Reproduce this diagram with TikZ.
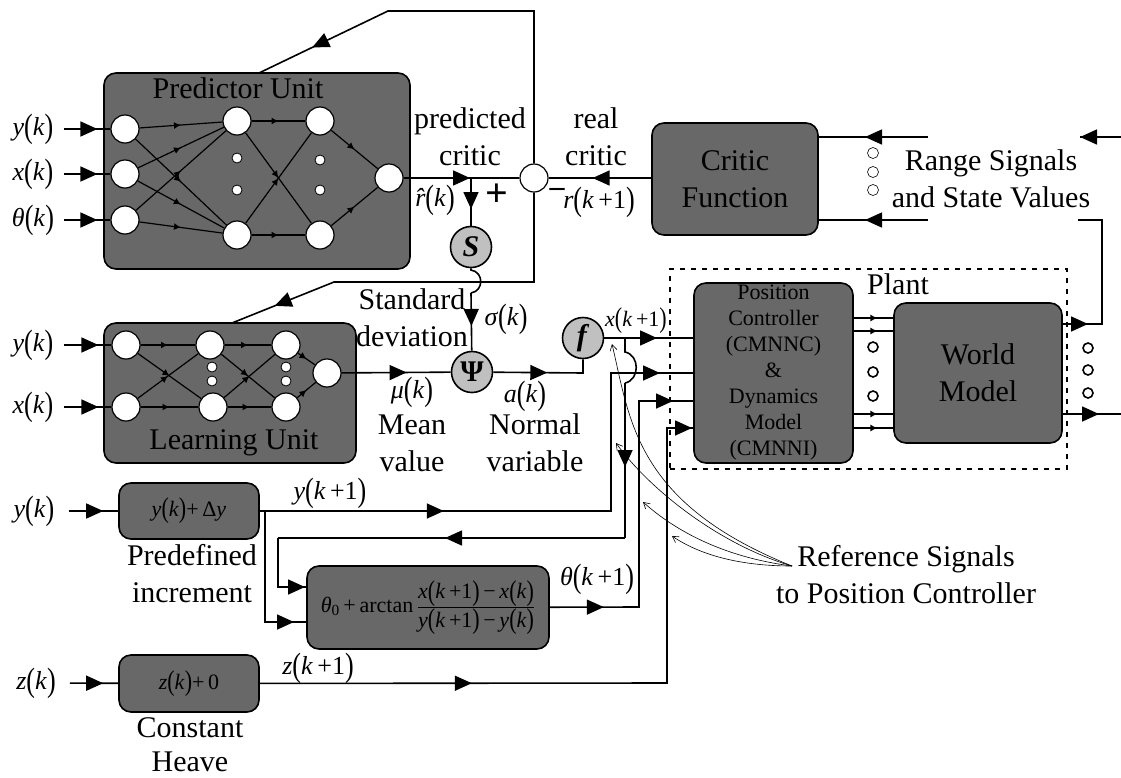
\documentclass[tikz,border=0pt]{standalone}
\usepackage{fontspec}
\setmainfont{Liberation Serif}
\usepackage{xcolor}
\definecolor{boxgray}{RGB}{104, 104, 104}
\definecolor{opgray}{RGB}{192, 192, 192}
\usepackage{tikz}
\usetikzlibrary{arrows.meta, decorations.markings}

\newcommand{\tallp}[1]{\raisebox{-0.06em}{\scalebox{1}[1.3]{#1}}}
\newcommand{\sigof}[2]{\textit{#1}\tallp{(}\textit{#2}\tallp{)}}
\newcommand{\signext}[1]{\textit{#1}\tallp{(}\textit{k}\,+1\tallp{)}}

\begin{document}
\begin{tikzpicture}[
    x=1pt, y=-1pt,
    every node/.style={align=center, inner sep=0pt, font=\fontsize{30}{37}\selectfont},
    mathlabel/.style={font=\fontsize{26}{30}\selectfont},
    inlabel/.style={mathlabel, inner xsep=10pt},
    smalllabel/.style={font=\fontsize{22}{26}\selectfont},
    unitbox/.style={rectangle, rounded corners=12pt, draw, line width=1.6pt, fill=boxgray},
    plantbox/.style={rectangle, draw, line width=2pt, dash pattern=on 5pt off 6pt},
    neuron/.style={circle, draw, fill=white, line width=1.2pt, minimum size=28pt},
    gapdot/.style={circle, draw, fill=white, line width=0.8pt, minimum size=10pt},
    ringdot/.style={circle, draw, fill=white, line width=1.6pt, minimum size=10pt},
    thindot/.style={circle, draw, fill=white, line width=0.6pt, minimum size=11pt},
    opnode/.style={circle, draw, fill=opgray, line width=1.6pt, minimum size=41pt, font=\fontsize{30}{30}\selectfont\bfseries},
    flow/.style={line width=1.6pt, decoration={markings, mark=at position #1 with {\arrow{Triangle[length=17pt,width=15pt]}}}, postaction={decorate}},
    flowtwo/.style 2 args={line width=1.6pt, decoration={markings, mark=at position #1 with {\arrow{Triangle[length=17pt,width=15pt]}}, mark=at position #2 with {\arrow{Triangle[length=17pt,width=15pt]}}}, postaction={decorate}},
    wire/.style={line width=1.6pt},
    edge/.style={line width=1.2pt, decoration={markings, mark=at position #1 with {\arrow{Latex[length=7pt,width=7pt]}}}, postaction={decorate}},
    edge/.default=0.5,
    callout/.style={line width=0.6pt, -{Straight Barb[length=6pt,width=7pt]}}
]
\useasboundingbox (0,0) rectangle (1121,777);

% Boxes
\node[plantbox, minimum width=397pt, minimum height=200pt] (plant) at (868,369) {};
\node[unitbox, minimum width=306pt, minimum height=196pt] (predictor) at (257,171) {};
\node[unitbox, minimum width=252pt, minimum height=140pt] (learning) at (230,393) {};
\node[unitbox, minimum width=166pt, minimum height=112pt] (criticfn) at (735,179) {Critic\\Function};
\node[unitbox, minimum width=159pt, minimum height=180pt, font=\fontsize{22}{26}\selectfont] (controller) at (773.5,373) {Position\\Controller\\(CMNNC)\\\&\\Dynamics\\Model\\(CMNNI)};
\node[unitbox, minimum width=168pt, minimum height=140pt] (world) at (978,373) {World\\Model};
\node[unitbox, minimum width=140pt, minimum height=56pt, smalllabel] (incr) at (189,511) {\sigof{y}{k}+\,Δ\textit{y}};
\node[unitbox, minimum width=242pt, minimum height=83pt, smalllabel] (formula) at (428,607.5) {\textit{θ}\textsubscript{0}\,+\,arctan\,$\displaystyle\frac{\mbox{\signext{x}\,−\,\sigof{x}{k}}}{\mbox{\signext{y}\,−\,\sigof{y}{k}}}$};
\node[unitbox, minimum width=140pt, minimum height=57pt, smalllabel] (heave) at (189,683.5) {\sigof{z}{k}+\,0};

% Predictor network
\node (predname) at (238,88) {Predictor Unit};
\node[neuron] (pa) at (125,129) {};
\node[neuron] (pb) at (125,174) {};
\node[neuron] (pc) at (125,220) {};
\node[neuron] (pd) at (237,121) {};
\node[neuron] (pe) at (237,235) {};
\node[neuron] (pf) at (320,121) {};
\node[neuron] (pg) at (320,235) {};
\node[neuron] (ph) at (389,178) {};
\node[gapdot] (pdota) at (237,158) {};
\node[gapdot] (pdotb) at (237,190) {};
\node[gapdot] (pdotc) at (320,160) {};
\node[gapdot] (pdotd) at (320,190) {};
\draw[edge] (pa) -- (pd);
\draw[edge] (pa) -- (pe);
\draw[edge] (pb) -- (pd);
\draw[edge] (pb) -- (pe);
\draw[edge] (pc) -- (pd);
\draw[edge] (pc) -- (pe);
\draw[edge] (pd) -- (pf);
\draw[edge] (pd) -- (pg);
\draw[edge] (pe) -- (pf);
\draw[edge] (pe) -- (pg);
\draw[edge] (pf) -- (ph);
\draw[edge] (pg) -- (ph);

% Learning network
\node (learnname) at (234,443) {Learning Unit};
\node[neuron] (la) at (126,345) {};
\node[neuron] (lb) at (126,407) {};
\node[neuron] (lc) at (210,345) {};
\node[neuron] (ld) at (213,407) {};
\node[neuron] (le) at (286,345) {};
\node[neuron] (lf) at (286,407) {};
\node[neuron] (lg) at (327,373) {};
\node[gapdot] (ldota) at (212,367) {};
\node[gapdot] (ldotb) at (212,381) {};
\node[gapdot] (ldotc) at (286,367) {};
\node[gapdot] (ldotd) at (286,381) {};
\draw[edge] (la) -- (lc);
\draw[edge] (la) -- (ld);
\draw[edge] (lb) -- (lc);
\draw[edge] (lb) -- (ld);
\draw[edge] (lc) -- (le);
\draw[edge] (lc) -- (lf);
\draw[edge] (ld) -- (le);
\draw[edge] (ld) -- (lf);
\draw[edge] (le) -- (lg);
\draw[edge] (lf) -- (lg);

% Operators
\node[neuron] (sum) at (534,178) {};
\node[opnode] (stddev) at (471,247) {\textit{S}};
\node[opnode] (psi) at (472,372) {Ψ};
\node[opnode] (fn) at (583,338) {\textit{f}};

% Labels
\node[inlabel] (lya) at (33,129) {\sigof{y}{k}};
\node[inlabel] (lxa) at (33,174) {\sigof{x}{k}};
\node[inlabel] (lta) at (33,220) {\sigof{θ}{k}};
\node[inlabel] (lyb) at (33,345) {\sigof{y}{k}};
\node[inlabel] (lxb) at (33,407) {\sigof{x}{k}};
\node[inlabel, inner xsep=14pt] (lyc) at (34,511) {\sigof{y}{k}};
\node[inlabel, inner xsep=14pt] (lzc) at (36,683) {\sigof{z}{k}};
\node (predicted) at (470,137) {predicted\\critic};
\node (realcritic) at (596,137) {real\\critic};
\node[mathlabel] (rhat) at (435,200) {\textit{r}\llap{\textit{ˆ}\hspace{.03em}}\tallp{(}\textit{k}\tallp{)}};
\node[font=\fontsize{40}{40}\selectfont\bfseries] (plus) at (497,195) {+};
\node[font=\fontsize{30}{30}\selectfont\bfseries] (minus) at (557,192) {–};
\node[mathlabel] (rnext) at (599,202) {\signext{r}};
\node (stdname) at (412,318) {Standard\\deviation};
\node[mathlabel] (sigma) at (506,319) {\sigof{σ}{k}};
\node[mathlabel] (mu) at (412,392) {\sigof{μ}{k}};
\node (meanname) at (412,443) {Mean\\value};
\node[mathlabel] (ak) at (525,396) {\sigof{a}{k}};
\node (normname) at (535,443) {Normal\\variable};
\node[smalllabel] (xnext) at (636,321) {\signext{x}};
\node (plantname) at (898,284) {Plant};
\node (rangename) at (991,179) {Range Signals\\and State Values};
\node[mathlabel] (ynext) at (330,493) {\signext{y}};
\node (predefname) at (192,574) {Predefined\\increment};
\node[mathlabel] (tnext) at (597,579) {\signext{θ}};
\node[mathlabel] (znext) at (318,668) {\signext{z}};
\node (constname) at (190,728) {Constant};
\node (heavename) at (190,762) {Heave};
\node (refname) at (906,575) {Reference Signals\\to Position Controller};

% Gap dots
\node[ringdot] (cdota) at (873,347) {};
\node[ringdot] (cdotb) at (873,372) {};
\node[ringdot] (cdotc) at (873,396) {};
\node[ringdot] (wdota) at (1088,348) {};
\node[ringdot] (wdotb) at (1088,370) {};
\node[ringdot] (wdotc) at (1088,393) {};
\node[thindot] (rdota) at (873,153) {};
\node[thindot] (rdotb) at (873,172) {};
\node[thindot] (rdotc) at (873,190) {};

% Coordinates
\coordinate (toproute) at (534,11);
\coordinate (topbend) at (388,11);
\coordinate (predtop) at (259,73);
\coordinate (lowroute) at (534,282);
\coordinate (lowbend) at (334,282);
\coordinate (learntop) at (232,323);
\coordinate (rhatfork) at (471,178);
\coordinate (hopsa) at (471,270);
\coordinate (hopsb) at (471,293);
\coordinate (acorner) at (583,373);
\coordinate (ctrlx) at (694,338);
\coordinate (ctrly) at (694,373);
\coordinate (ctrlt) at (694,401);
\coordinate (ctrlz) at (694,428);
\coordinate (xfork) at (625,338);
\coordinate (hopxa) at (625,352);
\coordinate (hopxb) at (625,383);
\coordinate (xdown) at (625,538);
\coordinate (xleft) at (278,538);
\coordinate (xinbend) at (278,587);
\coordinate (xin) at (307,587);
\coordinate (yup) at (611,511);
\coordinate (yfork) at (265,511);
\coordinate (yinbend) at (265,622);
\coordinate (yin) at (307,622);
\coordinate (tup) at (639,607);
\coordinate (zup) at (667,683);
\coordinate (worldouta) at (1062,324);
\coordinate (worldoutb) at (1062,414);
\coordinate (routeup) at (1102,324);
\coordinate (routetop) at (1102,220);
\coordinate (routeend) at (1078,220);
\coordinate (rightend) at (1121,414);
\coordinate (rangein) at (1121,137);
\coordinate (rangeend) at (1080,137);
\coordinate (criticina) at (818,137);
\coordinate (criticinb) at (818,220);
\coordinate (rangefreea) at (928,137);
\coordinate (rangefreeb) at (928,220);
\coordinate (refpoint) at (792,566);
\coordinate (tipa) at (612,344);
\coordinate (tipb) at (616,443);
\coordinate (tipc) at (643,502);
\coordinate (tipd) at (672,536);

% Connections
\draw[flow=-13pt] (lya) -- (pa);
\draw[flow=-13pt] (lxa) -- (pb);
\draw[flow=-13pt] (lta) -- (pc);
\draw[flow=-13pt] (lyb) -- (la);
\draw[flow=-13pt] (lxb) -- (lb);
\draw[flow=-15pt] (lyc) -- (incr);
\draw[flow=-15pt] (lzc) -- (heave);
\draw[flow=-1pt] (ph) -- (rhatfork);
\draw[wire] (rhatfork) -- (sum);
\draw[flow=31pt] (rhatfork) -- (stddev);
\draw[flow=-59pt] (sum) -- (toproute) -- (topbend) -- (predtop);
\draw[flow=-46pt] (sum) -- (lowroute) -- (lowbend) -- (learntop);
\draw[flow=-44pt] (criticfn.west |- sum) -- (sum);
\draw[wire] (stddev) -- (hopsa) .. controls (484,272) and (484,291) .. (hopsb);
\draw[flow=33pt] (hopsb) -- (psi);
\draw[flow=65pt] (lg) -- (psi);
\draw[flow=54pt] (psi) -- (acorner) -- (fn);
\draw[flow=-37pt] (fn) -- (ctrlx);
\draw[wire] (xfork) -- (hopxa) .. controls (640,355) and (640,380) .. (hopxb);
\draw[flow=84pt] (hopxb) -- (xdown);
\draw[flow=180pt] (xdown) -- (xleft);
\draw[flow=-2pt] (xleft) -- (xinbend) -- (xin);
\draw[flowtwo={184pt}{-34pt}] (incr) -- (yup) |- (ctrly);
\draw[flow=-13pt] (yfork) -- (yinbend) -- (yin);
\draw[flowtwo={54pt}{-21pt}] (formula) -- (tup) |- (ctrlt);
\draw[flowtwo={212pt}{-2pt}] (heave) -- (zup) |- (ctrlz);
\draw[edge=0.6] (controller.east |- 0,318) -- (world.west |- 0,318);
\draw[edge=0.6] (controller.east |- 0,331) -- (world.west |- 0,331);
\draw[edge=0.6] (controller.east |- 0,414) -- (world.west |- 0,414);
\draw[edge=0.6] (controller.east |- 0,428) -- (world.west |- 0,428);
\draw[flow=26pt] (worldouta) -- (routeup) -- (routetop) -- (routeend);
\draw[flow=37pt] (worldoutb) -- (rightend);
\draw[flow=41pt] (rangein) -- (rangeend);
\draw[flow=-47pt] (rangefreea) -- (criticina);
\draw[flow=-47pt] (rangefreeb) -- (criticinb);
\draw[callout] (refpoint) .. controls (635,503) and (630,420) .. (tipa);
\draw[callout] (refpoint) .. controls (720,545) and (650,490) .. (tipb);
\draw[callout] (refpoint) .. controls (730,558) and (680,535) .. (tipc);
\draw[callout] (refpoint) .. controls (740,566) and (700,555) .. (tipd);

\end{tikzpicture}
\end{document}
